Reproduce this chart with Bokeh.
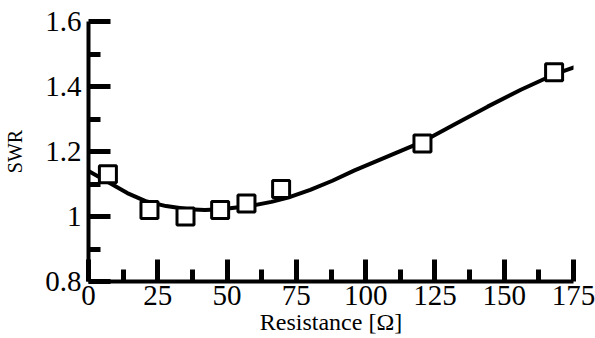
from bokeh.plotting import figure
from bokeh.models import Range1d, FixedTicker
from bokeh.embed import file_html
from bokeh.resources import INLINE

# Measured points (Resistance [Ω], SWR)
res_pts = [7, 22, 35, 47.5, 57, 69.5, 120.5, 168]
swr_pts = [1.13, 1.02, 1.00, 1.02, 1.04, 1.085, 1.225, 1.444]

# Fitted curve
res_fit = [0, 7, 14, 21, 28, 36, 42, 48, 58, 66, 72, 80, 88, 96, 108, 120, 132, 144, 156, 168, 176]
swr_fit = [1.14, 1.106, 1.072, 1.046, 1.032, 1.022, 1.020, 1.022, 1.032, 1.045, 1.058, 1.082, 1.11, 1.142,
           1.185, 1.228, 1.283, 1.338, 1.39, 1.437, 1.461]

x_ticks = [0, 25, 50, 75, 100, 125, 150, 175]
x_minor = [12.5, 37.5, 62.5, 87.5, 112.5, 137.5, 162.5]
y_ticks = [0.8, 1.0, 1.2, 1.4, 1.6]
y_minor = [0.9, 1.1, 1.3, 1.5]
y_labels = {0.8: "0.8", 1.0: "1", 1.2: "1.2", 1.4: "1.4", 1.6: "1.6"}

FONT = "Liberation Serif"

p = figure(width=595, height=338, output_backend="svg", toolbar_location=None,
           x_range=Range1d(0, 175), y_range=Range1d(0.8, 1.6),
           min_border_left=88, min_border_right=22, min_border_top=21, min_border_bottom=57)
p.outline_line_color = None
p.grid.visible = False
p.background_fill_color = "white"
p.border_fill_color = "white"

p.line(res_fit, swr_fit, line_color="black", line_width=4)
p.scatter(res_pts, swr_pts, marker="square", size=17, fill_color="white",
          line_color="black", line_width=3)

for ax, ticks, minor in ((p.xaxis[0], x_ticks, x_minor), (p.yaxis[0], y_ticks, y_minor)):
    ax.ticker = FixedTicker(ticks=ticks, minor_ticks=minor)
    ax.axis_line_width = 4
    ax.axis_line_color = "black"
    ax.major_tick_line_width = 5
    ax.minor_tick_line_width = 5
    ax.major_tick_line_color = "black"
    ax.minor_tick_line_color = "black"
    ax.major_tick_in = 22
    ax.major_tick_out = 0
    ax.minor_tick_in = 12
    ax.minor_tick_out = 0
    ax.major_label_text_font = FONT
    ax.major_label_text_font_size = "29px"
    ax.major_label_text_color = "black"
    ax.axis_label_text_font = FONT
    ax.axis_label_text_font_style = "normal"
    ax.axis_label_text_color = "black"

p.yaxis[0].major_label_overrides = y_labels
p.xaxis[0].axis_label = "Resistance [Ω]"
p.yaxis[0].axis_label = "SWR"
p.xaxis[0].axis_label_text_font_size = "24px"
p.yaxis[0].axis_label_text_font_size = "20px"
p.xaxis[0].major_label_standoff = 4
p.yaxis[0].major_label_standoff = 7
p.xaxis[0].axis_label_standoff = 1
p.yaxis[0].axis_label_standoff = 16

open("out.html", "w").write(file_html(p, INLINE))
